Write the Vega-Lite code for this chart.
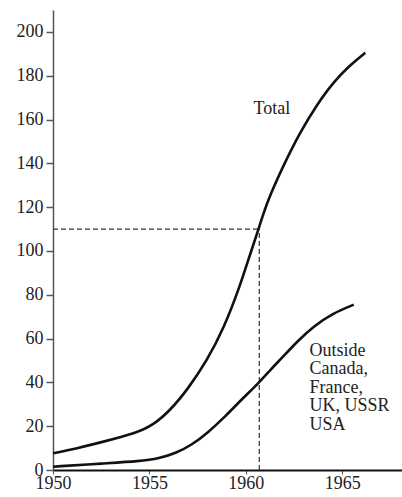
{
  "$schema": "https://vega.github.io/schema/vega-lite/v6.json",
  "autosize": {"type": "none"},
  "padding": {"left": 53, "top": 10, "right": 0, "bottom": 27},
  "width": 349,
  "height": 460,
  "background": "white",
  "config": {
    "view": {"stroke": null},
    "font": "Liberation Serif",
    "axis": {"grid": false, "title": null, "labelFont": "Liberation Serif", "labelFontSize": 18, "labelColor": "#222"}
  },
  "datasets": {
    "curves": [
      {"series": "Total", "year": 1950.0, "value": 7.6},
      {"series": "Total", "year": 1951.3, "value": 10.0},
      {"series": "Total", "year": 1952.6, "value": 12.9},
      {"series": "Total", "year": 1954.3, "value": 16.8},
      {"series": "Total", "year": 1955.2, "value": 20.5},
      {"series": "Total", "year": 1956.1, "value": 27.4},
      {"series": "Total", "year": 1957.0, "value": 37.0},
      {"series": "Total", "year": 1958.0, "value": 50.2},
      {"series": "Total", "year": 1958.85, "value": 64.5},
      {"series": "Total", "year": 1959.7, "value": 84.0},
      {"series": "Total", "year": 1960.24, "value": 99.0},
      {"series": "Total", "year": 1960.7, "value": 111},
      {"series": "Total", "year": 1961.1, "value": 122.5},
      {"series": "Total", "year": 1962.0, "value": 140},
      {"series": "Total", "year": 1962.8, "value": 154},
      {"series": "Total", "year": 1963.7, "value": 167},
      {"series": "Total", "year": 1964.56, "value": 177.3},
      {"series": "Total", "year": 1965.43, "value": 185},
      {"series": "Total", "year": 1966.2, "value": 190.5},
      {"series": "Outside", "year": 1950.0, "value": 1.5},
      {"series": "Outside", "year": 1952.6, "value": 3.0},
      {"series": "Outside", "year": 1954.5, "value": 4.0},
      {"series": "Outside", "year": 1955.5, "value": 5.2},
      {"series": "Outside", "year": 1956.4, "value": 7.8},
      {"series": "Outside", "year": 1957.2, "value": 11.5},
      {"series": "Outside", "year": 1958.0, "value": 16.8},
      {"series": "Outside", "year": 1959.0, "value": 25.0},
      {"series": "Outside", "year": 1959.7, "value": 31.5},
      {"series": "Outside", "year": 1960.7, "value": 40.0},
      {"series": "Outside", "year": 1961.3, "value": 46.0},
      {"series": "Outside", "year": 1961.8, "value": 50.5},
      {"series": "Outside", "year": 1962.7, "value": 59.0},
      {"series": "Outside", "year": 1963.5, "value": 65.5},
      {"series": "Outside", "year": 1964.5, "value": 71.5},
      {"series": "Outside", "year": 1965.6, "value": 75.5}
    ],
    "guides": [
      {"x": 1960.7, "y": 0, "x2": 1960.7, "y2": 110},
      {"x": 1950, "y": 110, "x2": 1960.7, "y2": 110}
    ],
    "labels": [
      {"year": 1960.4, "value": 162.5, "label": "Total"},
      {"year": 1963.3, "value": 52, "label": "Outside\nCanada,\nFrance,\nUK, USSR\nUSA"}
    ]
  },
  "layer": [
    {
      "data": {"name": "guides"},
      "mark": {"type": "rule", "strokeDash": [5, 3], "strokeWidth": 1.2, "color": "#333"},
      "encoding": {
        "x": {"field": "x", "type": "quantitative", "scale": {"domain": [1950, 1968.1], "nice": false, "zero": false},
          "axis": {"values": [1950, 1955, 1960, 1965], "format": "d", "domainColor": "#111", "domainWidth": 2, "tickColor": "#555", "tickSize": 4, "tickWidth": 1, "labelPadding": 0, "labelFlush": false}},
        "x2": {"field": "x2"},
        "y": {"field": "y", "type": "quantitative", "scale": {"domain": [0, 210], "nice": false},
          "axis": {"values": [0, 20, 40, 60, 80, 100, 120, 140, 160, 180, 200], "domainColor": "#555", "domainWidth": 1.5, "tickColor": "#555", "tickSize": 7, "tickWidth": 1.5, "labelPadding": 3}},
        "y2": {"field": "y2"}
      }
    },
    {
      "data": {"name": "curves"},
      "mark": {"type": "line", "interpolate": "basis", "strokeWidth": 2.6, "color": "#111"},
      "encoding": {
        "x": {"field": "year", "type": "quantitative"},
        "y": {"field": "value", "type": "quantitative"},
        "detail": {"field": "series"}
      }
    },
    {
      "data": {"name": "labels"},
      "mark": {"type": "text", "align": "left", "baseline": "alphabetic", "fontSize": 18, "lineHeight": 18.4, "lineBreak": "\n", "color": "#222", "font": "Liberation Serif"},
      "encoding": {
        "x": {"field": "year", "type": "quantitative"},
        "y": {"field": "value", "type": "quantitative"},
        "text": {"field": "label"}
      }
    }
  ]
}
